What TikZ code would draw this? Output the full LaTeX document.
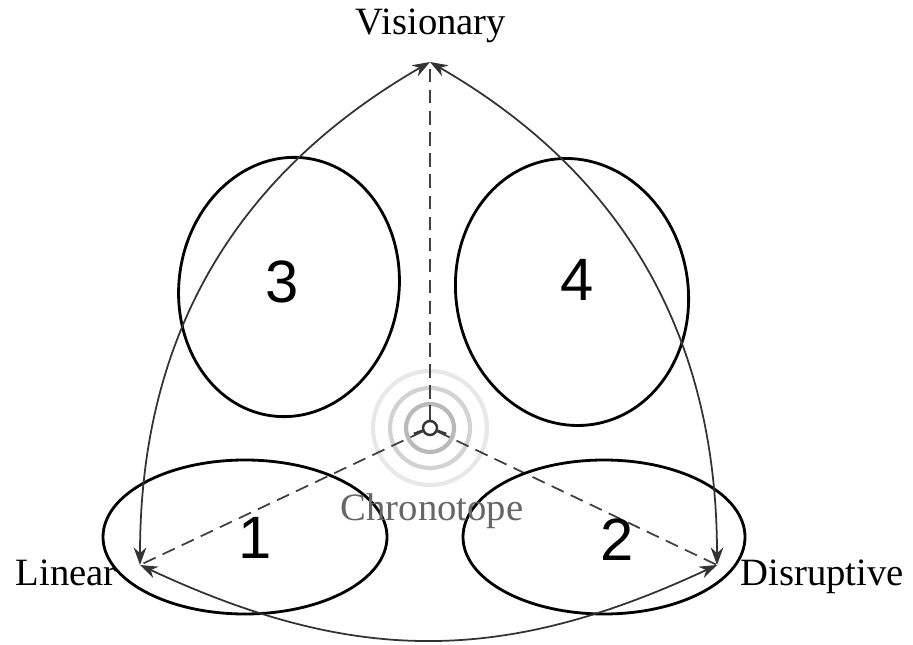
\documentclass[tikz,border=0pt]{standalone}
\usepackage{fontspec}
\setmainfont{Liberation Serif}
\newfontfamily\digitfont{Liberation Sans}
\usetikzlibrary{arrows.meta}

\begin{document}
\begin{tikzpicture}[>={Stealth[length=5pt,width=3.6pt]},
    label/.style={font=\fontsize{11}{13}\selectfont, inner sep=0pt},
    digit/.style={font=\digitfont\fontsize{17}{20}\selectfont, inner sep=0pt},
    zone/.style={line width=0.8pt},
    link/.style={black!80, line width=0.5pt},
    axis/.style={black!75, line width=0.5pt, dash pattern=on 3.8pt off 2.2pt}]
    \useasboundingbox (0,0) rectangle (9.13,6.44);

    % end points of the three axes
    \coordinate (V) at (4.30,5.82);
    \coordinate (L) at (1.40,0.79);
    \coordinate (D) at (7.17,0.79);

    % chronotope at the centre
    \foreach \r/\s in {0.57/18, 0.40/35, 0.24/55}
        \draw[gray!\s, line width=1.2pt] (4.30,2.16) circle (\r);
    \node[circle, draw=black!80, line width=0.7pt, minimum size=0.14cm, inner sep=0pt] (c) at (4.30,2.16) {};
    \draw[black!80, line width=0.7pt] (c.north) -- ++(0,0.15);
    \draw[black!80, line width=0.7pt] (c.200) -- ++(200:0.09);
    \draw[black!80, line width=0.7pt] (c.340) -- ++(340:0.09);

    \draw[axis] (c) -- (V);
    \draw[axis] (c) -- (L);
    \draw[axis] (c) -- (D);

    % zones
    \draw[zone] (2.45,1.07) ellipse (1.42 and 0.77);
    \draw[zone] (6.04,1.07) ellipse (1.41 and 0.77);
    \draw[zone, rotate around={-8:(2.89,3.57)}] (2.89,3.57) ellipse (1.10 and 1.30);
    \draw[zone, rotate around={10:(5.72,3.52)}] (5.72,3.52) ellipse (1.16 and 1.34);

    \node[digit] (z1) at (2.55,1.06) {1};
    \node[digit] (z2) at (6.17,1.04) {2};
    \node[digit] (z3) at (2.82,3.62) {3};
    \node[digit] (z4) at (5.77,3.64) {4};

    % transitions
    \draw[link, <->] (V) to[out=210, in=90] (L);
    \draw[link, <->] (V) to[out=-30, in=90] (D);
    \draw[link, <->] (L) to[out=-25, in=-155, looseness=1.05] (D);

    \node[label, anchor=base] (vis) at (4.31,6.09) {Visionary};
    \node[label, anchor=base west] (lin) at (0.15,0.59) {Linear};
    \node[label, anchor=base west] (dis) at (7.40,0.59) {Disruptive};
    \node[label, anchor=base, black!60] (chr) at (4.32,1.24) {Chronotope};
\end{tikzpicture}
\end{document}
